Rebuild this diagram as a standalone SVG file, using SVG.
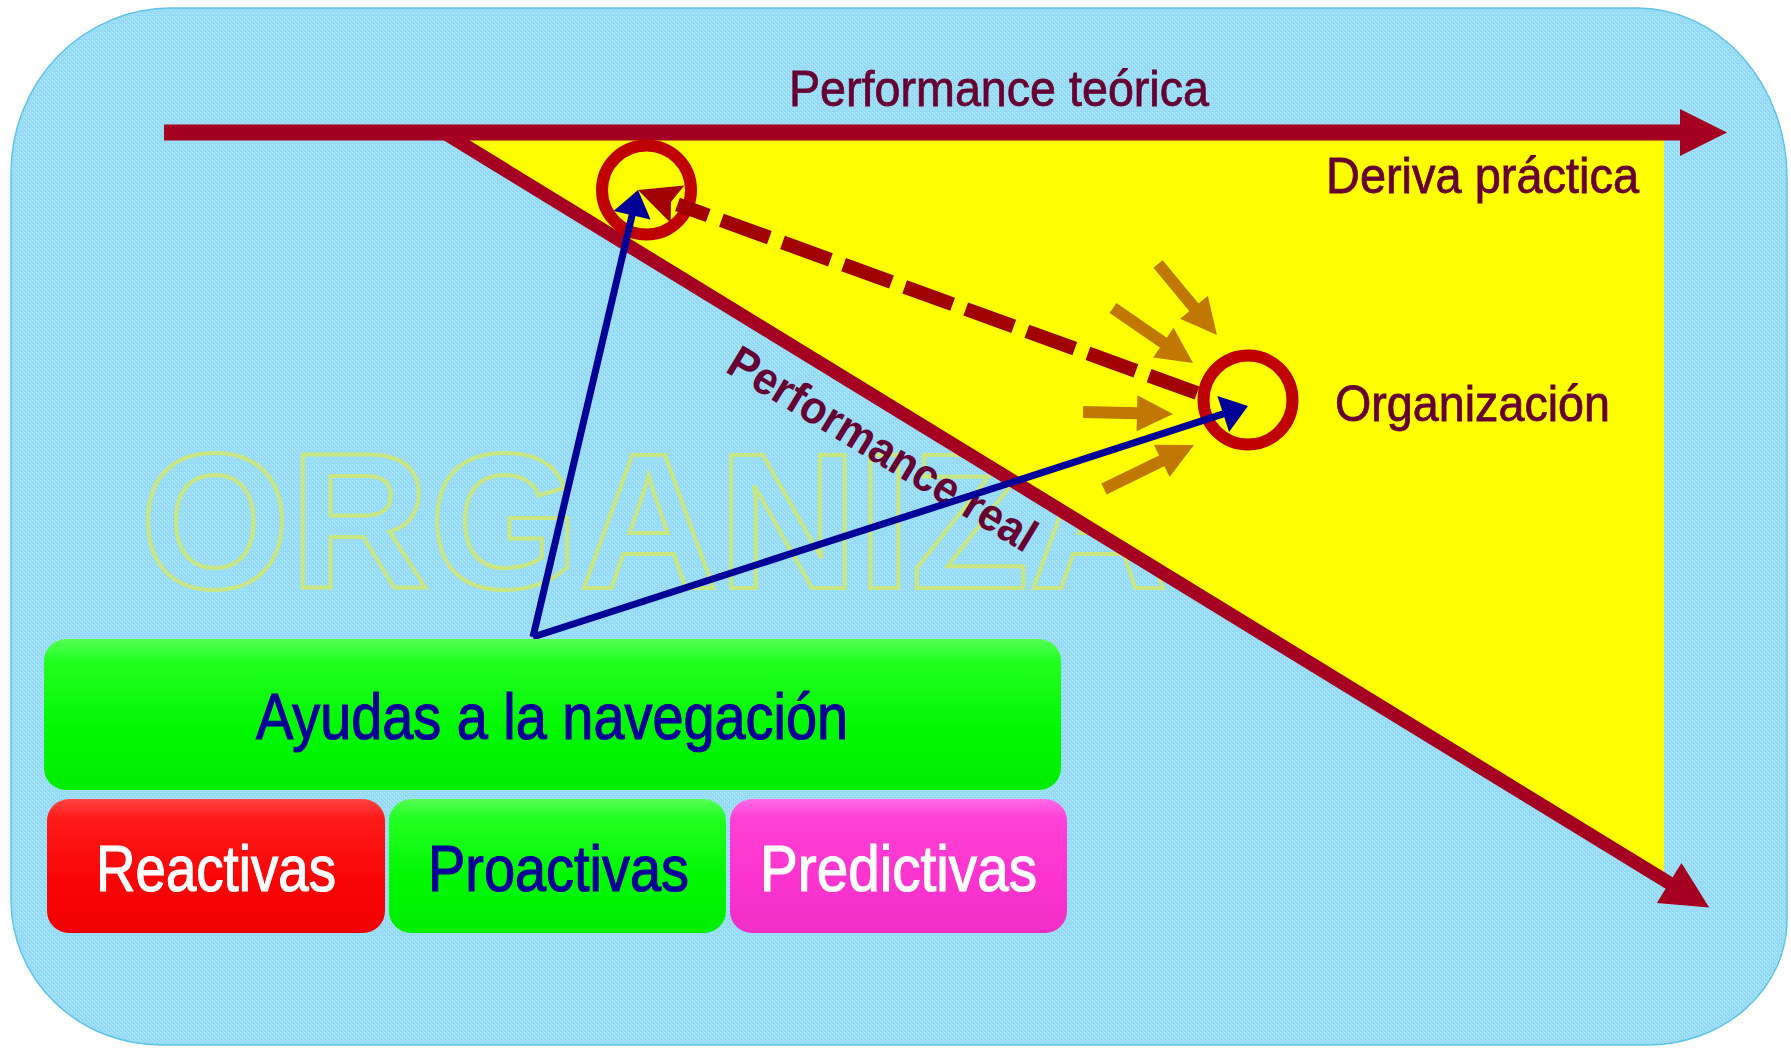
<svg xmlns="http://www.w3.org/2000/svg" width="1791" height="1049" viewBox="0 0 1791 1049">
  <defs>
    <pattern id="tex" width="4" height="4" patternUnits="userSpaceOnUse">
      <rect width="4" height="4" fill="#98DBF4"/>
      <rect x="0" y="0" width="1" height="1" fill="#B9EBFB"/>
      <rect x="2" y="2" width="1" height="1" fill="#B9EBFB"/>
      <rect x="1" y="3" width="1" height="1" fill="#86D3EE"/>
    </pattern>
    <linearGradient id="gGreen" x1="0" y1="0" x2="0" y2="1">
      <stop offset="0" stop-color="#55FF55"/>
      <stop offset="0.14" stop-color="#22FF22"/>
      <stop offset="0.6" stop-color="#00F800"/>
      <stop offset="1" stop-color="#00EE00"/>
    </linearGradient>
    <linearGradient id="gRed" x1="0" y1="0" x2="0" y2="1">
      <stop offset="0" stop-color="#FF4545"/>
      <stop offset="0.14" stop-color="#FF1A1A"/>
      <stop offset="0.6" stop-color="#FA0505"/>
      <stop offset="1" stop-color="#F20000"/>
    </linearGradient>
    <linearGradient id="gPink" x1="0" y1="0" x2="0" y2="1">
      <stop offset="0" stop-color="#FF6AE8"/>
      <stop offset="0.14" stop-color="#FF40D6"/>
      <stop offset="0.6" stop-color="#FC34CF"/>
      <stop offset="1" stop-color="#F02EC6"/>
    </linearGradient>
    <marker id="mRed" markerUnits="userSpaceOnUse" markerWidth="60" markerHeight="60" refX="0" refY="0" orient="auto" overflow="visible">
      <path d="M-1,-23.5 L46,0 L-1,23.5 Z" fill="#A50021"/>
    </marker>
    <marker id="mBlue" markerUnits="userSpaceOnUse" markerWidth="40" markerHeight="40" refX="0" refY="0" orient="auto" overflow="visible">
      <path d="M-1,-19 L25,0 L-1,19 Z" fill="#000099"/>
    </marker>
    <marker id="mDash" markerUnits="userSpaceOnUse" markerWidth="50" markerHeight="50" refX="0" refY="0" orient="auto" overflow="visible">
      <path d="M0,-20 L42,0 L0,20 L7,0 Z" fill="#A00000"/>
    </marker>
    <marker id="mOr" markerUnits="userSpaceOnUse" markerWidth="40" markerHeight="40" refX="0" refY="0" orient="auto" overflow="visible">
      <path d="M-1,-18 L35,0 L-1,18 Z" fill="#C07800"/>
    </marker>
    <style>
      .narrow { font-family: "Liberation Sans Narrow", "Liberation Sans", Arial, sans-serif; }
      .lbl { fill: #660033; stroke: #660033; stroke-width: 0.8; font-size: 50px; }
      .btn { font-size: 64px; stroke-width: 1.2; }
      .ring { fill: none; stroke: #C00000; stroke-width: 12; }
      .orange { stroke: #C07800; stroke-width: 12; fill: none; marker-end: url(#mOr); }
      .blue { stroke: #000099; stroke-width: 7; fill: none; marker-end: url(#mBlue); }
      .bigred { stroke: #A50021; fill: none; marker-end: url(#mRed); }
    </style>
  </defs>

  <g id="background">
    <path d="M171,8 H1637 A150,170 0 0 1 1787,178 V920 A140,125 0 0 1 1647,1045 H161 A150,145 0 0 1 11,900 V173 A160,165 0 0 1 171,8 Z" fill="url(#tex)" stroke="#5EC4EA" stroke-width="1.5"/>
    <text x="140" y="588" font-family="Liberation Sans, Arial, sans-serif" font-weight="bold" font-size="193" textLength="1028" lengthAdjust="spacingAndGlyphs" fill="none" stroke="#C8E682" stroke-width="4">ORGANIZA</text>
    <polygon id="deriva-area" points="448,135 1664,135 1664,880" fill="#FFFF00"/>
  </g>

  <g id="axes">
    <line id="performance-real-axis" class="bigred" x1="443" y1="132" x2="1670" y2="883.5" stroke-width="13.5"/>
    <line id="performance-teorica-axis" class="bigred" x1="164" y1="132.5" x2="1681" y2="132.5" stroke-width="16"/>
  </g>

  <g id="labels">
    <text class="narrow lbl" x="789" y="106" font-size="52" textLength="420" lengthAdjust="spacingAndGlyphs">Performance teórica</text>
    <text class="narrow lbl" x="1326" y="193" textLength="313" lengthAdjust="spacingAndGlyphs">Deriva práctica</text>
    <text class="narrow lbl" x="1335" y="421" textLength="275" lengthAdjust="spacingAndGlyphs">Organización</text>
    <text x="724" y="371" transform="rotate(31.2 724 371)" font-family="Liberation Sans, Arial, sans-serif" font-weight="bold" font-size="46" fill="#660033" textLength="352" lengthAdjust="spacingAndGlyphs">Performance real</text>
  </g>

  <g id="ring-ideal">
    <circle class="ring" cx="646.5" cy="190" r="44.5"/>
  </g>
  <g id="ring-organizacion">
    <circle class="ring" cx="1248" cy="400" r="44.5"/>
  </g>

  <g id="connectors">
    <line id="deriva-dashed" x1="1197" y1="393" x2="677.5" y2="204.3" stroke="#A00000" stroke-width="14" stroke-dasharray="51 14" marker-end="url(#mDash)"/>
    <line class="orange" x1="1158" y1="264" x2="1194.6" y2="308.1"/>
    <line class="orange" x1="1113" y1="308" x2="1164.2" y2="343.2"/>
    <line class="orange" x1="1083" y1="412" x2="1138" y2="413.2"/>
    <line class="orange" x1="1104" y1="489" x2="1162.6" y2="460.4"/>
    <line class="blue" x1="533" y1="637" x2="632.3" y2="214.3"/>
    <line class="blue" x1="533" y1="637" x2="1224.2" y2="413.7"/>
  </g>

  <g id="ayudas">
    <rect x="44" y="639" width="1017" height="151" rx="22" fill="url(#gGreen)"/>
    <text class="narrow btn" x="256" y="739" fill="#000099" stroke="#000099" textLength="592" lengthAdjust="spacingAndGlyphs">Ayudas a la navegación</text>
  </g>
  <g id="reactivas">
    <rect x="47" y="799" width="338" height="134" rx="22" fill="url(#gRed)"/>
    <text class="narrow btn" x="96" y="890.5" fill="#FFFFFF" stroke="#FFFFFF" textLength="240" lengthAdjust="spacingAndGlyphs">Reactivas</text>
  </g>
  <g id="proactivas">
    <rect x="389" y="799" width="337" height="134" rx="22" fill="url(#gGreen)"/>
    <text class="narrow btn" x="428" y="890.5" fill="#000099" stroke="#000099" textLength="261" lengthAdjust="spacingAndGlyphs">Proactivas</text>
  </g>
  <g id="predictivas">
    <rect x="730" y="799" width="337" height="134" rx="22" fill="url(#gPink)"/>
    <text class="narrow btn" x="760" y="890.5" fill="#FFFFFF" stroke="#FFFFFF" textLength="277" lengthAdjust="spacingAndGlyphs">Predictivas</text>
  </g>
</svg>
